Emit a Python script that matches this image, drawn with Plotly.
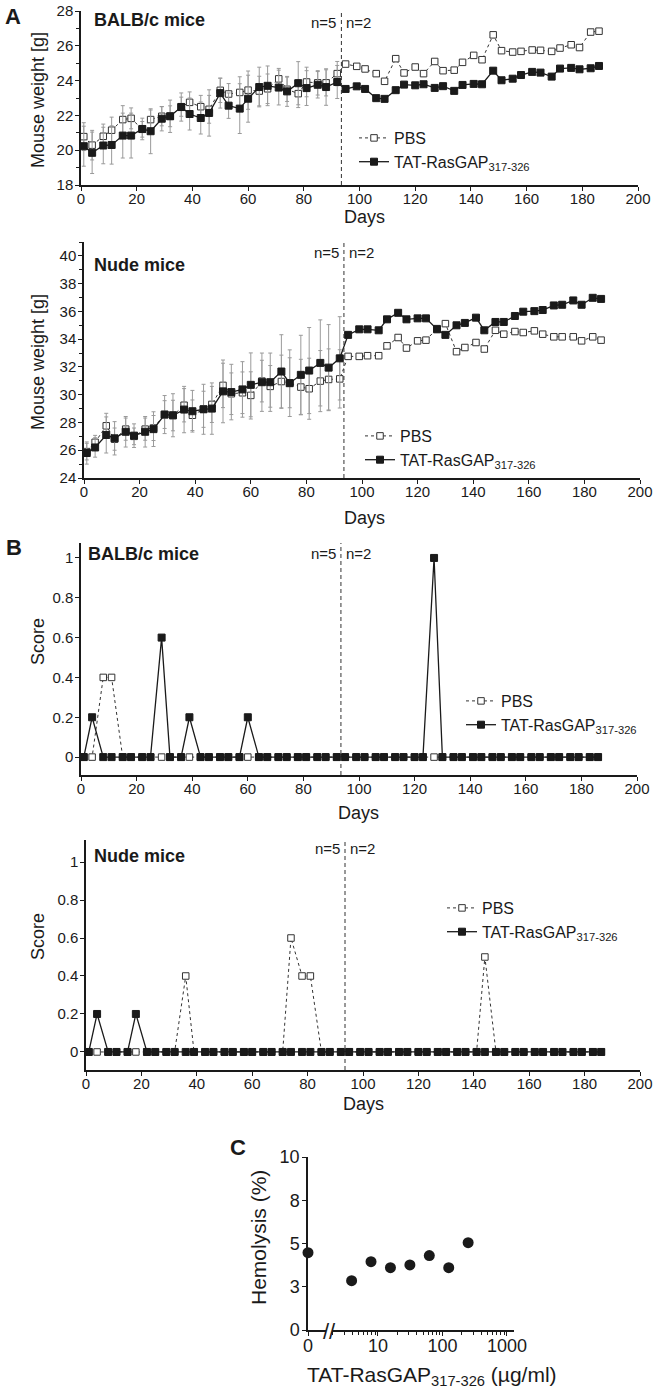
import plotly.graph_objects as go

W, H = 659, 1395
FONT = "Liberation Sans, Arial, sans-serif"
INK = "#1a1a1a"
GRAY = "#9a9a9a"

# ---------------- data ----------------
days = [1, 4, 8, 11, 15, 18, 22, 25, 29, 32, 36, 39, 43, 46, 50, 53, 57, 60, 64, 67, 71, 74, 78, 81, 85, 88,
        92, 95, 99, 102, 106, 109, 113, 116, 120, 123, 127, 130, 134, 137, 141, 144, 148, 151, 155, 158, 162,
        165, 169, 172, 176, 179, 183, 186]

balb_pbs_weight = [20.78, 20.29, 20.80, 21.15, 21.76, 21.83, 21.20, 21.76, 21.95, 21.95, 22.50, 22.75, 22.50,
                   22.35, 23.44, 23.23, 23.32, 23.45, 23.40, 23.53, 24.10, 23.50, 23.25, 23.92, 23.87, 23.87,
                   24.40, 24.95, 24.82, 24.67, 24.40, 23.96, 25.26, 24.44, 24.78, 24.40, 25.10, 24.57, 24.60,
                   25.05, 25.45, 25.20, 26.63, 25.72, 25.64, 25.68, 25.76, 25.74, 25.68, 25.87, 26.06, 25.90,
                   26.79, 26.84]
balb_tat_weight = [20.23, 19.85, 20.27, 20.30, 20.84, 20.84, 21.22, 21.09, 21.81, 21.95, 22.48, 22.08, 21.85,
                   22.14, 23.28, 22.56, 22.39, 22.96, 23.63, 23.70, 23.60, 23.38, 23.85, 23.57, 23.76, 23.63,
                   23.92, 23.52, 23.67, 23.52, 22.99, 22.95, 23.45, 23.77, 23.73, 23.79, 23.58, 23.68, 23.41,
                   23.75, 23.81, 23.79, 24.57, 24.02, 24.11, 24.32, 24.50, 24.46, 24.23, 24.69, 24.73, 24.65,
                   24.71, 24.84]
# SD only while n=5 (up to day 92)
balb_pbs_err = [0.80, 0.85, 0.70, 0.75, 0.80, 0.60, 0.45, 0.55, 0.55, 0.60, 0.55, 0.60, 0.65, 0.80, 0.70,
                0.60, 0.90, 1.10, 0.85, 0.85, 0.60, 0.70, 0.80, 0.85, 0.70, 0.75, 0.70]
balb_tat_err = [1.15, 1.19, 1.05, 1.10, 1.29, 1.29, 0.62, 1.29, 0.70, 0.93, 0.81, 0.92, 0.92, 1.33, 0.86,
                0.73, 1.43, 1.35, 1.14, 1.14, 1.00, 0.86, 1.24, 1.00, 0.76, 1.05, 0.95]

nude_pbs_weight = [25.90, 26.57, 27.76, 26.80, 27.52, 27.00, 27.52, 27.60, 28.57, 28.50, 29.24, 28.52, 28.95,
                   29.30, 30.67, 30.07, 30.14, 29.95, 30.98, 30.60, 30.95, 30.86, 30.55, 30.43, 30.98, 31.10,
                   31.14, 32.76, 32.76, 32.81, 32.81, 33.52, 34.12, 33.36, 33.88, 33.93, 34.76, 35.12, 33.10,
                   33.40, 33.76, 33.29, 34.64, 34.36, 34.55, 34.48, 34.60, 34.36, 34.17, 34.17, 34.17, 33.88,
                   34.17, 33.93]
nude_tat_weight = [25.80, 26.20, 27.10, 26.86, 27.33, 27.05, 27.33, 27.52, 28.57, 28.52, 28.93, 28.81, 28.95,
                   29.00, 30.24, 30.19, 30.38, 30.71, 30.90, 30.90, 31.67, 30.83, 31.43, 31.74, 32.29, 31.95,
                   32.62, 34.31, 34.71, 34.71, 34.64, 35.43, 35.90, 35.43, 35.50, 35.50, 34.71, 34.31, 35.00,
                   35.17, 35.55, 34.64, 35.24, 35.24, 35.67, 35.98, 36.02, 36.10, 36.43, 36.48, 36.79, 36.48,
                   36.98, 36.90]
nude_pbs_err = [0.60, 0.50, 0.90, 0.80, 0.80, 0.60, 0.80, 0.90, 1.00, 1.10, 1.20, 1.10, 1.30, 1.30, 1.60,
                1.50, 1.50, 1.70, 1.50, 1.50, 1.90, 1.80, 2.00, 2.20, 2.20, 2.20, 2.10]
nude_tat_err = [0.80, 0.70, 1.30, 1.20, 1.10, 0.85, 1.10, 1.25, 1.37, 1.55, 1.67, 1.50, 1.80, 1.85, 2.26,
                2.00, 2.00, 2.30, 2.10, 2.10, 2.65, 2.40, 2.85, 3.10, 3.10, 3.10, 3.00]

balb_pbs_score = [0, 0, 0.4, 0.4, 0, 0, 0, 0, 0, 0, 0, 0, 0, 0, 0, 0, 0, 0, 0, 0, 0, 0, 0, 0, 0, 0, 0,
                  0, 0, 0, 0, 0, 0, 0, 0, 0, 0, 0, 0, 0, 0, 0, 0, 0, 0, 0, 0, 0, 0, 0, 0, 0, 0, 0]
balb_tat_score = [0, 0.2, 0, 0, 0, 0, 0, 0, 0.6, 0, 0, 0.2, 0, 0, 0, 0, 0, 0.2, 0, 0, 0, 0, 0, 0, 0, 0, 0,
                  0, 0, 0, 0, 0, 0, 0, 0, 0, 1.0, 0, 0, 0, 0, 0, 0, 0, 0, 0, 0, 0, 0, 0, 0, 0, 0, 0]
nude_pbs_score = [0, 0, 0, 0, 0, 0, 0, 0, 0, 0, 0.4, 0, 0, 0, 0, 0, 0, 0, 0, 0, 0, 0.6, 0.4, 0.4, 0, 0, 0,
                  0, 0, 0, 0, 0, 0, 0, 0, 0, 0, 0, 0, 0, 0, 0.5, 0, 0, 0, 0, 0, 0, 0, 0, 0, 0, 0, 0]
nude_tat_score = [0, 0.2, 0, 0, 0, 0.2, 0, 0, 0, 0, 0, 0, 0, 0, 0, 0, 0, 0, 0, 0, 0, 0, 0, 0, 0, 0, 0,
                  0, 0, 0, 0, 0, 0, 0, 0, 0, 0, 0, 0, 0, 0, 0, 0, 0, 0, 0, 0, 0, 0, 0, 0, 0, 0, 0]

split_day = 93.5
series_names = ["PBS", "TAT-RasGAP<sub>317-326</sub>"]

hemo_control = [4.47]
hemo_conc = [3.9, 7.8, 15.6, 31.25, 62.5, 125, 250]
hemo_pct = [2.85, 3.95, 3.60, 3.76, 4.30, 3.60, 5.05]


# ---------------- helpers ----------------
def dx(a, b):
    return [a / W, b / W]


def dy(top, bot):
    return [1 - bot / H, 1 - top / H]


def px(xp):
    return xp / W


def py(yp):
    return 1 - yp / H


fig = go.Figure()

panels = [
    ("x", "y", "legend", balb_pbs_weight, balb_tat_weight, balb_pbs_err, balb_tat_err),
    ("x2", "y2", "legend2", nude_pbs_weight, nude_tat_weight, nude_pbs_err, nude_tat_err),
    ("x3", "y3", "legend3", balb_pbs_score, balb_tat_score, None, None),
    ("x4", "y4", "legend4", nude_pbs_score, nude_tat_score, None, None),
]

for xa, ya, lg, pbs, tat, pe, te in panels:
    pbs_kw = {}
    tat_kw = {}
    if pe is not None:
        pbs_kw["error_y"] = dict(type="data", array=pe, color=GRAY, thickness=1, width=2)
        tat_kw["error_y"] = dict(type="data", array=te, color=GRAY, thickness=1, width=2)
    fig.add_trace(go.Scatter(
        x=days, y=pbs, mode="lines+markers", name=series_names[0], legend=lg,
        xaxis=xa, yaxis=ya, cliponaxis=False,
        line=dict(color="#333333", width=1, dash="3px,3px"),
        marker=dict(symbol="square", size=6.5, color="white", line=dict(color="#333333", width=1)),
        **pbs_kw))
    fig.add_trace(go.Scatter(
        x=days, y=tat, mode="lines+markers", name=series_names[1], legend=lg,
        xaxis=xa, yaxis=ya, cliponaxis=False,
        line=dict(color=INK, width=1.3),
        marker=dict(symbol="square", size=7, color=INK, line=dict(color=INK, width=1)),
        **tat_kw))

fig.add_trace(go.Scatter(x=[0] * len(hemo_control), y=hemo_control, mode="markers", showlegend=False,
                         xaxis="x5", yaxis="y5", cliponaxis=False,
                         marker=dict(symbol="circle", size=11, color=INK)))
fig.add_trace(go.Scatter(x=hemo_conc, y=hemo_pct, mode="markers", showlegend=False,
                         xaxis="x6", yaxis="y5", cliponaxis=False,
                         marker=dict(symbol="circle", size=11, color=INK)))

axis_common = dict(showline=True, linecolor=INK, linewidth=1.5, ticks="outside", ticklen=4,
                   tickwidth=1.2, tickcolor=INK, showgrid=False, zeroline=False, automargin=False,
                   ticklabeloverflow="allow",
                   tickfont=dict(size=15, color=INK, family=FONT))
xcommon = dict(axis_common, ticklabelstandoff=-5)
ycommon = dict(axis_common, ticklabelstandoff=-1)


def xday(domain, anchor):
    return dict(xcommon, domain=domain, anchor=anchor, range=[0, 200], tick0=0, dtick=20)


layout = dict(
    template="none",
    width=W, height=H, margin=dict(l=0, r=0, t=0, b=0, pad=0, autoexpand=False),
    paper_bgcolor="white", plot_bgcolor="rgba(0,0,0,0)",
    font=dict(family=FONT, color=INK),
    xaxis=xday(dx(81, 638), "y"),
    yaxis=dict(ycommon, domain=dy(11, 185), anchor="x", range=[18, 28], tick0=18, dtick=2,
               minor=dict(dtick=1, ticks="outside", ticklen=3, tickcolor=INK, showgrid=False)),
    xaxis2=xday(dx(84, 640), "y2"),
    yaxis2=dict(ycommon, domain=dy(242, 478), anchor="x2", range=[24, 41], tick0=24, dtick=2,
                minor=dict(dtick=1, ticks="outside", ticklen=3, tickcolor=INK, showgrid=False)),
    xaxis3=xday(dx(81, 637), "y3"),
    yaxis3=dict(ycommon, domain=dy(543, 775), anchor="x3", range=[-0.09, 1.075], tick0=0, dtick=0.2),
    xaxis4=xday(dx(86, 640), "y4"),
    yaxis4=dict(ycommon, domain=dy(840, 1070), anchor="x4", range=[-0.095, 1.116], tick0=0, dtick=0.2),
    xaxis5=dict(xcommon, domain=dx(308, 326), anchor="y5", range=[0, 1], tickmode="array",
                tickvals=[0], ticktext=["0"], tickfont=dict(size=18, color=INK, family=FONT)),
    xaxis6=dict(xcommon, domain=dx(332, 514), anchor="y5", type="log", range=[0.287, 3.109],
                tickmode="array", tickvals=[10, 100, 1000], ticktext=["10", "100", "1000"],
                tickfont=dict(size=18, color=INK, family=FONT),
                minor=dict(tickmode="array",
                           tickvals=[m * 10 ** e for e in range(0, 3) for m in range(2, 10)],
                           ticks="outside", ticklen=3, tickcolor=INK, showgrid=False)),
    yaxis5=dict(ycommon, domain=dy(1157, 1330), anchor="x5", range=[0, 10], tickmode="array",
                tickvals=[0, 2.5, 5, 7.5, 10], ticktext=["0", "3", "5", "8", "10"],
                tickfont=dict(size=18, color=INK, family=FONT)),
)

legend_style = dict(bgcolor="rgba(0,0,0,0)", font=dict(size=16, family=FONT, color=INK),
                    xanchor="left", yanchor="top", itemwidth=30, tracegroupgap=0)
layout["legend"] = dict(legend_style, x=px(354), y=py(121))
layout["legend2"] = dict(legend_style, x=px(360), y=py(419))
layout["legend3"] = dict(legend_style, x=px(461), y=py(684))
layout["legend4"] = dict(legend_style, x=px(442), y=py(891))

fig.update_layout(**layout)

# vertical split lines
for xa, ya in [("x", "y"), ("x2", "y2"), ("x3", "y3"), ("x4", "y4")]:
    fig.add_shape(type="line", xref=xa, yref=ya + " domain", x0=split_day, x1=split_day, y0=0, y1=1,
                  line=dict(color="#333333", width=1, dash="4px,3px"))

ann = []


def text(t, x, y, size=15, bold=False, xanchor="center", angle=0, xref="paper", xshift=0):
    ann.append(dict(text=("<b>%s</b>" % t) if bold else t, x=x, y=y, xref=xref, yref="paper",
                    showarrow=False, xanchor=xanchor, yanchor="middle", textangle=angle, xshift=xshift,
                    font=dict(size=size, family=FONT, color=INK)))


# panel letters
text("A", px(13), py(16), 22, True)
text("B", px(14), py(547), 22, True)
text("C", px(238), py(1147), 22, True)

# subplot titles
text("BALB/c mice", px(92), py(20), 18, True, "left")
text("Nude mice", px(92), py(265), 18, True, "left")
text("BALB/c mice", px(86), py(554), 18, True, "left")
text("Nude mice", px(92), py(856), 18, True, "left")

# n labels
for xa, yp in [("x", 22), ("x2", 253), ("x3", 554), ("x4", 848)]:
    text("n=5", split_day, py(yp), 15, False, "right", xref=xa, xshift=-3)
    text("n=2", split_day, py(yp), 15, False, "left", xref=xa, xshift=3)

# axis titles
text("Mouse weight [g]", px(38), py(100), 18, angle=-90)
text("Mouse weight [g]", px(38), py(362), 18, angle=-90)
text("Score", px(38), py(642), 18, angle=-90)
text("Score", px(38), py(937), 18, angle=-90)
text("Days", px(364), py(217), 18)
text("Days", px(364), py(518), 18)
text("Days", px(359), py(813), 18)
text("Days", px(363), py(1104), 18)
text("Hemolysis (%)", px(258), py(1238), 21, angle=-90)
text("TAT-RasGAP<sub>317-326</sub> (\u00b5g/ml)", px(432), py(1376), 21)
# axis break mark
text("//", px(329), py(1331), 22)

fig.update_layout(annotations=ann)

fig.write_html("out.html", include_plotlyjs=True, config={"displayModeBar": False},
               post_script="document.body.style.margin='0';document.body.style.overflow='hidden';")
